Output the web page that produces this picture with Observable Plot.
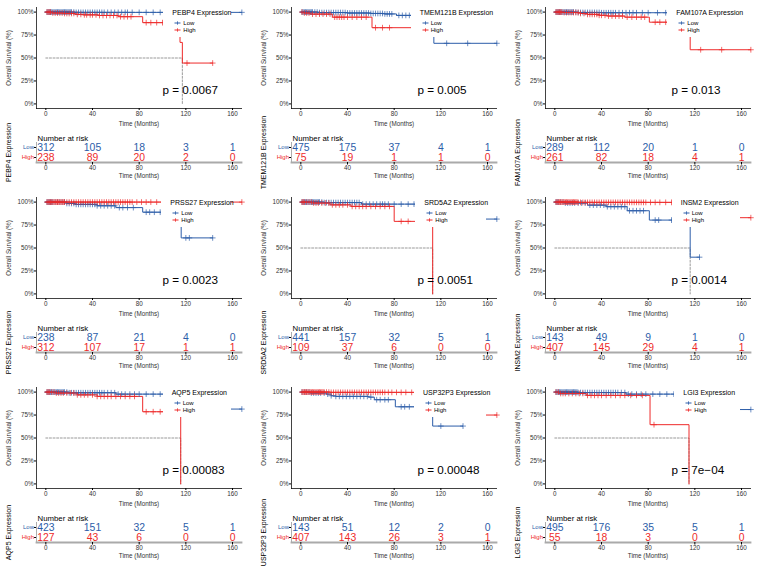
<!DOCTYPE html>
<html>
<head>
<meta charset="utf-8">
<script src="https://cdn.jsdelivr.net/npm/d3@7"></script>
<script src="https://cdn.jsdelivr.net/npm/@observablehq/plot@0.6"></script>
<style>
  body { margin: 0; background: #fff; font-family: "Liberation Sans", Arial, Helvetica, sans-serif; }
  #root { position: relative; width: 757px; height: 566px; overflow: hidden; background: #fff; }
  .panel { position: absolute; width: 248px; height: 190px; }
  .km { position: absolute; left: 0; top: 0; }
  .risk { position: absolute; left: 0; top: 128px; }
  .legend { position: absolute; top: 4px; height: 33px; background: #fff; }
  .lt { position: absolute; top: 4.5px; font-size: 7px; line-height: 8px; white-space: nowrap; color: #000; }
  .li { position: absolute; font-size: 6px; line-height: 7px; white-space: nowrap; color: #000; }
  .li svg { position: absolute; top: 0.5px; }
  .li span { position: absolute; }
</style>
</head>
<body>
<div id="root"></div>
<script>
// ---------- data ----------
const genes = ["PEBP4", "TMEM121B", "FAM107A", "PRSS27", "SRD5A2", "INSM2", "AQP5", "USP32P3", "LGI3"];
const pValues = ["p = 0.0067", "p = 0.005", "p = 0.013", "p = 0.0023", "p = 0.0051", "p = 0.0014", "p = 0.00083", "p = 0.00048", "p = 7e\u221204"];
const pvalPos = [100, 0.15];
const medianTimes = [117, null, null, null, 113, 116, 115.6, null, 115];
const timeTicks = [0, 40, 80, 120, 160];
const survTicks = [0, 0.25, 0.5, 0.75, 1];
const groups = ["Low", "High"];

// number at risk
const riskLow  = [[312,105,18,3,1],[475,175,37,4,1],[289,112,20,1,0],[238,87,21,4,0],[441,157,32,5,1],[143,49,9,1,0],[423,151,32,5,1],[143,51,12,2,0],[495,176,35,5,1]];
const riskHigh = [[238,89,20,2,0],[75,19,1,1,0],[261,82,18,4,1],[312,107,17,1,1],[109,37,6,0,0],[407,145,29,4,1],[127,43,6,0,0],[407,143,26,3,1],[55,18,3,0,0]];

// survival steps [time, survival]
const pebp4Low    = [[0,1],[25,0.997],[168,0.997]];
const pebp4High   = [[0,1],[5,0.99],[15,0.985],[25,0.975],[32,0.97],[45,0.963],[62,0.95],[83,0.885],[115,0.67],[117,0.445],[143,0.445]];
const tmem121bLow = [[0,1],[15,0.995],[40,0.99],[60,0.985],[72,0.98],[82,0.964],[114,0.66],[168,0.66]];
const tmem121bHigh= [[0,1],[3,0.99],[8,0.978],[27,0.945],[61,0.83],[100,0.83]];
const fam107aLow  = [[0,1],[20,0.996],[40,0.993],[100,0.993]];
const fam107aHigh = [[0,1],[8,0.995],[22,0.985],[28,0.975],[38,0.965],[45,0.957],[60,0.945],[81,0.89],[116,0.59],[168,0.59]];
const prss27Low   = [[0,1],[18,0.985],[25,0.975],[44,0.96],[60,0.94],[83,0.89],[116,0.61],[143,0.61]];
const prss27High  = [[0,1],[168,1]];
const srd5a2Low   = [[0,1],[20,0.995],[52,0.978],[118,0.815],[168,0.815]];
const srd5a2High  = [[0,1],[10,0.99],[25,0.97],[43,0.953],[80,0.79],[113,0]];
const insm2Low    = [[0,1],[8,0.99],[28,0.967],[44,0.95],[62,0.906],[81,0.804],[116,0.40],[124,0.40]];
const insm2High   = [[0,1],[20,0.997],[120,0.83],[168,0.83]];
const aqp5Low     = [[0,1],[20,0.993],[60,0.978],[118,0.815],[168,0.815]];
const aqp5High    = [[0,1],[8,0.99],[27,0.97],[44,0.953],[83,0.786],[115.6,0]];
const usp32p3Low  = [[0,1],[8,0.99],[22,0.978],[26,0.96],[30,0.953],[58,0.945],[63,0.917],[81,0.84],[113,0.63],[139,0.63]];
const usp32p3High = [[0,1],[25,0.997],[118,0.75],[168,0.75]];
const lgi3Low     = [[0,1],[20,0.995],[61,0.978],[118,0.81],[168,0.81]];
const lgi3High    = [[0,1],[4,0.985],[27,0.964],[81.6,0.645],[115,0]];

// censoring times
const pebp4LowC    = [1,2,3,4,5,6,7,8,9,10,11,12,13,14,15,16,17,18,19,20,21,22,24,26,28,30,32,34,36,38,40,42,44,46,48,50,53,56,59,62,65,68,70,74,80,86,92,98,104,168];
const pebp4HighC   = [1,2,3,4,6,8,10,12,14,16,18,20,22,24,27,30,33,35,38,40,43,46,49,52,55,58,61,64,67,70,73,86,90,95,100,104,121,143];
const tmem121bLowC = [1,2,3,4,5,6,7,8,9,10,12,14,16,18,20,22,24,26,28,30,32,34,36,38,40,42,44,46,48,50,52,54,56,58,60,62,64,66,68,70,72,74,76,78,84,87,90,93,96,99,125,143,168];
const tmem121bHighC= [1,3,5,7,10,13,16,19,22,25,29,31,33,35,37,40,44,48,52,56,64,70,76,100];
const fam107aLowC  = [1,2,3,4,5,6,7,8,9,10,11,12,13,14,15,16,18,20,22,24,26,28,30,32,34,36,38,40,42,44,46,48,50,52,55,58,61,64,67,70,75,80,88,95,100];
const fam107aHighC = [1,2,3,4,5,6,8,10,12,14,16,18,20,22,25,28,30,32,34,36,38,40,43,46,49,52,55,58,62,66,70,74,77,86,90,95,100,104,125,143,168];
const prss27LowC   = [1,2,3,4,5,6,8,10,12,14,16,18,20,22,24,26,28,30,32,34,36,38,40,42,44,47,50,53,56,59,63,66,70,75,86,89,93,98,104,120,123,143];
const prss27HighC  = [1,2,3,4,5,6,7,8,9,10,11,12,13,14,15,16,18,20,22,24,26,28,30,32,34,36,38,40,42,44,46,48,50,52,54,56,58,60,62,64,66,68,70,72,74,78,82,86,90,95,100,104,168];
const srd5a2LowC   = [1,2,3,4,5,6,7,8,9,10,11,12,13,14,15,16,18,20,22,24,26,28,30,32,34,36,38,40,42,44,46,48,50,53,56,59,62,65,68,70,72,75,80,86,92,97,101,168];
const srd5a2HighC  = [1,2,3,5,7,9,11,13,15,18,21,24,27,30,33,36,40,44,47,50,53,56,60,64,68,72,76,86,92];
const insm2LowC    = [1,2,3,5,7,9,11,13,15,17,20,23,26,30,33,36,39,42,45,48,51,54,57,60,64,67,70,73,76,86,89,100,124];
const insm2HighC   = [1,2,3,4,5,6,7,8,9,10,11,12,13,14,15,16,17,18,19,20,22,24,26,28,30,32,34,36,38,40,42,44,46,48,50,52,54,56,58,60,62,64,66,68,70,72,74,76,78,82,86,90,95,100,104,168];
const aqp5LowC     = [1,2,3,4,5,6,7,8,9,10,11,12,13,14,15,16,18,20,22,24,26,28,30,32,34,36,38,40,42,44,46,48,50,53,56,59,62,65,68,72,76,80,86,92,98,104,168];
const aqp5HighC    = [1,2,3,5,7,9,11,13,15,18,21,24,27,30,33,36,40,44,47,50,53,56,60,64,68,72,76,86,92,98];
const usp32p3LowC  = [1,3,5,7,9,11,13,15,17,20,23,26,30,33,36,39,42,45,48,51,54,57,60,65,68,72,75,86,89,93,98,120,139];
const usp32p3HighC = [1,2,3,4,5,6,7,8,9,10,11,12,13,14,15,16,17,18,19,20,22,24,26,28,30,32,34,36,38,40,42,44,46,48,50,52,54,56,58,60,62,64,66,68,70,72,75,78,82,86,90,95,100,168];
const lgi3LowC     = [1,2,3,4,5,6,7,8,9,10,11,12,13,14,15,16,17,18,19,20,22,24,26,28,30,32,34,36,38,40,42,44,46,48,50,52,54,57,60,63,66,70,74,78,84,90,96,102,108,168];
const lgi3HighC    = [1,3,5,7,9,12,15,18,21,24,28,31,34,37,40,44,48,52,56,60,65,70,75,85];

const lowCurves  = [pebp4Low, tmem121bLow, fam107aLow, prss27Low, srd5a2Low, insm2Low, aqp5Low, usp32p3Low, lgi3Low];
const highCurves = [pebp4High, tmem121bHigh, fam107aHigh, prss27High, srd5a2High, insm2High, aqp5High, usp32p3High, lgi3High];
const lowCens    = [pebp4LowC, tmem121bLowC, fam107aLowC, prss27LowC, srd5a2LowC, insm2LowC, aqp5LowC, usp32p3LowC, lgi3LowC];
const highCens   = [pebp4HighC, tmem121bHighC, fam107aHighC, prss27HighC, srd5a2HighC, insm2HighC, aqp5HighC, usp32p3HighC, lgi3HighC];

// ---------- layout / style ----------
const blue = "#2C5DA9", red = "#EE2A2A";
const font = "'Liberation Sans', Arial, Helvetica, sans-serif";
const panelX = [0, 255, 509];
const panelY = [0, 190, 380];
const legendLeft = [172.3, 164.7, 167.3, 170.3, 169.3, 171.7, 171.7, 168, 174.3];
const xDomain = [-8, 167.7];

function survAt(steps, t) {
  let s = steps[0][1];
  for (const [tt, ss] of steps) { if (tt <= t) s = ss; else break; }
  return s;
}

function kmPlot(i) {
  const lo = lowCurves[i], hi = highCurves[i];
  const loC = lowCens[i].map(t => [t, survAt(lo, t)]);
  const hiC = highCens[i].map(t => [t, survAt(hi, t)]);
  const m = medianTimes[i];
  const marks = [];
  if (m != null) {
    marks.push(Plot.line([[0, 0.5], [m, 0.5], [m, 0]], {stroke: "#555", strokeWidth: 0.6, strokeDasharray: "2,1.6"}));
  }
  marks.push(
    Plot.line(lo, {curve: "step-after", stroke: blue, strokeWidth: 1}),
    Plot.line(hi, {curve: "step-after", stroke: red, strokeWidth: 1}),
    Plot.dot(loC, {symbol: "plus", r: 2, stroke: blue, strokeWidth: 0.7}),
    Plot.dot(hiC, {symbol: "plus", r: 2, stroke: red, strokeWidth: 0.7}),
    Plot.frame({anchor: "left", stroke: "#111", strokeWidth: 0.8}),
    Plot.frame({anchor: "bottom", stroke: "#111", strokeWidth: 0.8}),
    Plot.axisX({ticks: timeTicks, tickSize: 2, tickPadding: 1, fontSize: 6.3, fill: "#333",
      label: "Time (Months)", labelAnchor: "center", labelArrow: "none", labelOffset: 17}),
    Plot.axisY({ticks: survTicks, tickFormat: d3.format(".0%"), tickSize: 2, tickPadding: 0.8, fontSize: 6.3, fill: "#333",
      label: "Overall Survival (%)", labelAnchor: "center", labelArrow: "none", labelOffset: 30}),
    Plot.text([{t: pvalPos[0], s: pvalPos[1], label: pValues[i]}], {x: "t", y: "s", text: "label", textAnchor: "start",
      fontSize: 11.7, fill: "#000"})
  );
  return Plot.plot({
    width: 248, height: 128, marginLeft: 36, marginRight: 7, marginTop: 7, marginBottom: 20,
    style: {fontFamily: font, background: "transparent", overflow: "visible", color: "#000"},
    x: {domain: xDomain},
    y: {domain: [-0.05, 1.05]},
    marks
  });
}

function riskPlot(i) {
  const rows = [];
  timeTicks.forEach((t, k) => {
    rows.push({t, g: "Low", n: riskLow[i][k]});
    rows.push({t, g: "High", n: riskHigh[i][k]});
  });
  return Plot.plot({
    width: 248, height: 56, marginLeft: 36, marginRight: 7, marginTop: 14, marginBottom: 22,
    style: {fontFamily: font, background: "transparent", overflow: "visible", color: "#000"},
    x: {domain: xDomain},
    y: {type: "band", domain: groups, padding: 0},
    marks: [
      Plot.frame({anchor: "left", stroke: "#999", strokeWidth: 0.8}),
      Plot.frame({anchor: "bottom", stroke: "#aaa", strokeWidth: 1.8}),
      Plot.axisX({ticks: timeTicks, tickSize: 2.5, tickPadding: 1, fontSize: 6.3, fill: "#333",
        label: "Time (Months)", labelAnchor: "center", labelArrow: "none", labelOffset: 15}),
      Plot.axisY({tickSize: 2, tickFormat: () => "", fontSize: 7,
        label: genes[i] + " Expression", labelAnchor: "center", labelArrow: "none", labelOffset: 30}),
      Plot.text(groups.filter(g => g === "Low"), {frameAnchor: "left", y: d => d, text: d => d, textAnchor: "end", dx: -2.5, fill: blue, fontSize: 6}),
      Plot.text(groups.filter(g => g === "High"), {frameAnchor: "left", y: d => d, text: d => d, textAnchor: "end", dx: -2.5, fill: red, fontSize: 6}),
      Plot.text(rows.filter(r => r.g === "Low"), {x: "t", y: "g", text: "n", fill: blue, fontSize: 10.4}),
      Plot.text(rows.filter(r => r.g === "High"), {x: "t", y: "g", text: "n", fill: red, fontSize: 10.4}),
      Plot.text(["Number at risk"], {frameAnchor: "top-left", textAnchor: "start", dx: 1, dy: -7, fontSize: 7.8, fill: "#000"})
    ]
  });
}

function legendBox(i) {
  const L = legendLeft[i];
  const box = document.createElement("div");
  box.className = "legend";
  const left = L - 9;
  box.style.left = left + "px";
  box.style.width = (231 - left) + "px";
  const keySvg = c => `<svg width="7" height="6" viewBox="0 0 7 6"><line x1="0.5" y1="3" x2="6.5" y2="3" stroke="${c}" stroke-width="1"/><line x1="3.5" y1="1.3" x2="3.5" y2="4.7" stroke="${c}" stroke-width="0.8"/></svg>`;
  box.innerHTML =
    `<div class="lt" style="left:9px">${genes[i]} Expression</div>` +
    `<div class="li" style="left:11px;top:15.5px">${keySvg(blue)}<span style="left:9px">Low</span></div>` +
    `<div class="li" style="left:11px;top:22.5px">${keySvg(red)}<span style="left:9px">High</span></div>`;
  return box;
}

const root = document.getElementById("root");
genes.forEach((g, i) => {
  const p = document.createElement("div");
  p.className = "panel";
  p.style.left = panelX[i % 3] + "px";
  p.style.top = panelY[Math.floor(i / 3)] + "px";
  const km = kmPlot(i); km.classList.add("km");
  const rk = riskPlot(i); rk.classList.add("risk");
  p.appendChild(km);
  p.appendChild(legendBox(i));
  p.appendChild(rk);
  root.appendChild(p);
});
</script>
</body>
</html>
